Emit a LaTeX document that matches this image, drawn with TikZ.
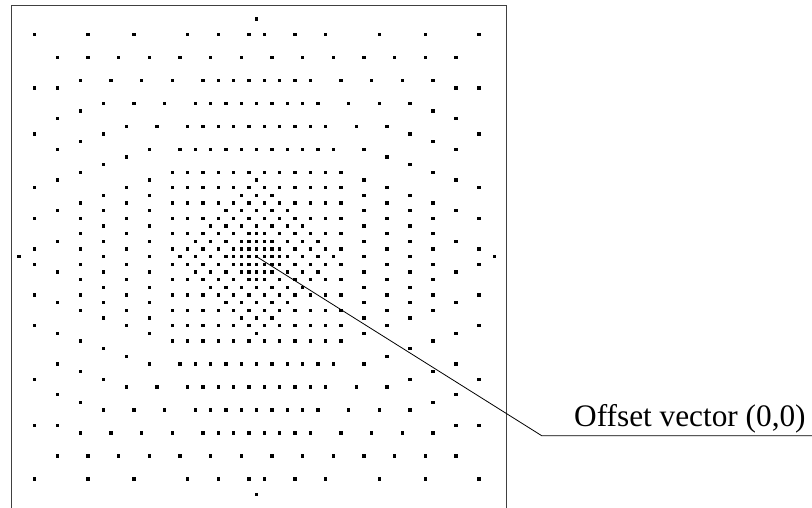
\documentclass[tikz,border=0pt]{standalone}
\usepackage{fontspec}
\setmainfont{Liberation Serif}
\begin{document}
\begin{tikzpicture}[x=1pt,y=-1pt,
  frameline/.style={draw=black!75, line width=0.9pt},
  leader/.style={draw=black, line width=0.8pt},
  dotfill/.style={fill=black},
  labeltext/.style={inner sep=0pt, anchor=base west, font=\fontsize{31.3}{37}\selectfont}]
\useasboundingbox (0,0) rectangle (812,508);
% frame (open at the bottom edge of the picture)
\draw[frameline] (11,508) -- (11,5.7) -- (506,5.7) -- (506,508);
% dot pattern
\begin{scope}[shift={(256.7,256.7)}, x=7.6667pt, y=-7.6667pt]
  % rings, grid, diamond and dense centre, given for one octant (a >= b >= 0)
  \foreach \a/\bl in {
      14/{0,2,4,6,8,10,14},
      17/{1,3,5,7,9,13,17},
      20/{0,2,4,6,8,12,16,20},
      23/{1,3,5,7,11,15,19,23},
      26/{2,6,10,14,18,22,26},
      29/{1,5,9,16,22,29},
      31/{0},
      1/{1},
      3/{1,3},
      5/{1,3,5},
      7/{1,3,5,7},
      9/{1,3,5,7,9},
      11/{1,3,5,7,9,11},
      10/{0},
      8/{0,2},
      6/{0,2,4},
      4/{0,2,4},
      2/{0,1,2},
      3/{0},
      1/{0},
      0/{0}} {
    \foreach \b in \bl {
      \foreach \sx in {-1,1} {
        \foreach \sy in {-1,1} {
          \fill[dotfill] (\sx*\a,\sy*\b) ++(-1.65pt,-1.65pt) rectangle ++(3.3pt,3.3pt);
          \fill[dotfill] (\sx*\b,\sy*\a) ++(-1.65pt,-1.65pt) rectangle ++(3.3pt,3.3pt);
        }
      }
    }
  }
\end{scope}
% label and leader
\coordinate (origin) at (256.7,256.7);
\coordinate (bend) at (541.7,435.7);
\coordinate (lineend) at (812,435.7);
\node[labeltext] (label) at (574,426) {Offset vector (0,0)};
\draw[leader] (origin) -- (bend) -- (lineend);
\end{tikzpicture}
\end{document}
